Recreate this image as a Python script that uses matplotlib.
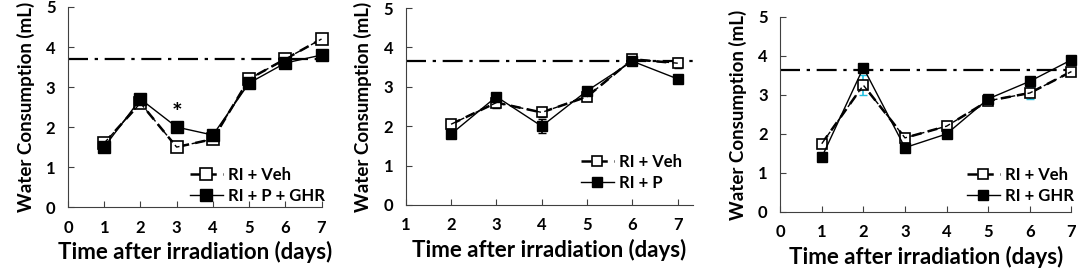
import numpy as np
import matplotlib
matplotlib.use("Agg")
import matplotlib.pyplot as plt

plt.rcParams['font.family'] = ['Lato', 'DejaVu Sans']
plt.rcParams['font.weight'] = 'bold'

# panel A: RI + P + GHR
days_a = [1, 2, 3, 4, 5, 6, 7]
veh_a = [1.6, 2.6, 1.5, 1.7, 3.2, 3.7, 4.2]
pg_a = [1.5, 2.7, 2.0, 1.8, 3.1, 3.6, 3.8]

# panel B: RI + P
days_b = [2, 3, 4, 5, 6, 7]
veh_b = [2.05, 2.6, 2.35, 2.75, 3.7, 3.6]
veh_b_err = [0.1, 0.15, 0.12, 0.08, 0.05, 0.12]
p_b = [1.8, 2.75, 2.0, 2.9, 3.65, 3.2]
p_b_err = [0.08, 0.08, 0.18, 0.08, 0.08, 0.08]

# panel C: RI + GHR
days_c = [1, 2, 3, 4, 5, 6, 7]
veh_c = [1.75, 3.25, 1.9, 2.2, 2.85, 3.05, 3.6]
veh_c_err = [0.08, 0.25, 0.1, 0.08, 0.08, 0.15, 0.08]
ghr_c = [1.4, 3.7, 1.65, 2.0, 2.9, 3.35, 3.9]
ghr_c_err = [0.1, 0.1, 0.05, 0.08, 0.05, 0.12, 0.05]

baseline = [3.7, 3.65, 3.65]
labels_b = ["RI + P + GHR", "RI + P", "RI + GHR"]

fig = plt.figure(figsize=(10.79, 2.69), dpi=100)
axes = [
    fig.add_axes([0.063, 0.230, 0.235, 0.744]),
    fig.add_axes([0.376, 0.238, 0.266, 0.732]),
    fig.add_axes([0.723, 0.212, 0.270, 0.725]),
]
xlims = [(0, 7), (1, 7.33), (0, 7)]
xticks = [range(0, 8), range(1, 8), range(0, 8)]
legend_pos = [(0.48, 0.11), (0.61, 0.165), (0.64, 0.136)]
msizes = [8, 7, 7]

data = [
    (days_a, veh_a, None, pg_a, None, 'k', 'k'),
    (days_b, veh_b, veh_b_err, p_b, p_b_err, 'k', 'k'),
    (days_c, veh_c, veh_c_err, ghr_c, ghr_c_err, '#22c0e0', 'red'),
]

for i, ax in enumerate(axes):
    d, v, ve, g, ge, c1, c2 = data[i]
    ms = msizes[i]
    if ve is not None:
        ax.errorbar(d, v, yerr=ve, fmt='none', ecolor=c1, elinewidth=1.2, capsize=3, zorder=2)
        ax.errorbar(d, g, yerr=ge, fmt='none', ecolor=c2, elinewidth=1.2, capsize=3, zorder=2)
    ax.plot(d, v, ls=(0, (4, 2.5)), color='k', lw=1.8, marker='s', ms=ms,
            mfc='white', mec='k', mew=1.2, label='RI + Veh', zorder=3, clip_on=False)
    # dashed line shows through the open markers
    ax.plot(d, v, ls=(0, (4, 2.5)), color='k', lw=1.0, zorder=3.5, clip_on=False)
    ax.plot(d, g, ls='-', color='k', lw=1.0, marker='s', ms=ms,
            mfc='k', mec='k', label=labels_b[i], zorder=4, clip_on=False)
    ax.plot(xlims[i], [baseline[i]] * 2, color='k', lw=1.6,
            ls=(0, (9, 3, 1.5, 3)), zorder=1)
    ax.set_xlim(xlims[i])
    ax.set_ylim(0, 5)
    ax.set_xticks(list(xticks[i]))
    ax.set_yticks(range(0, 6))
    ax.spines['top'].set_visible(False)
    ax.spines['right'].set_visible(False)
    ax.spines['left'].set_color('#404040')
    ax.spines['bottom'].set_color('#404040')
    ax.tick_params(direction='in', length=4, color='#404040', labelsize=12, pad=9)
    ax.set_xlabel('Time after irradiation (days)', fontsize=16, fontweight='bold', labelpad=4)
    ax.set_ylabel('Water Consumption (mL)', fontsize=13.5, fontweight='bold', labelpad=8)
    ax.legend(loc='center left', bbox_to_anchor=legend_pos[i], frameon=False,
              fontsize=12, handlelength=2.0, labelspacing=0.3, handletextpad=0.3,
              borderpad=0, borderaxespad=0)

axes[0].text(3, 2.35, '*', ha='center', va='center', fontsize=18, fontweight='bold')

fig.savefig('out.png', dpi=100)
